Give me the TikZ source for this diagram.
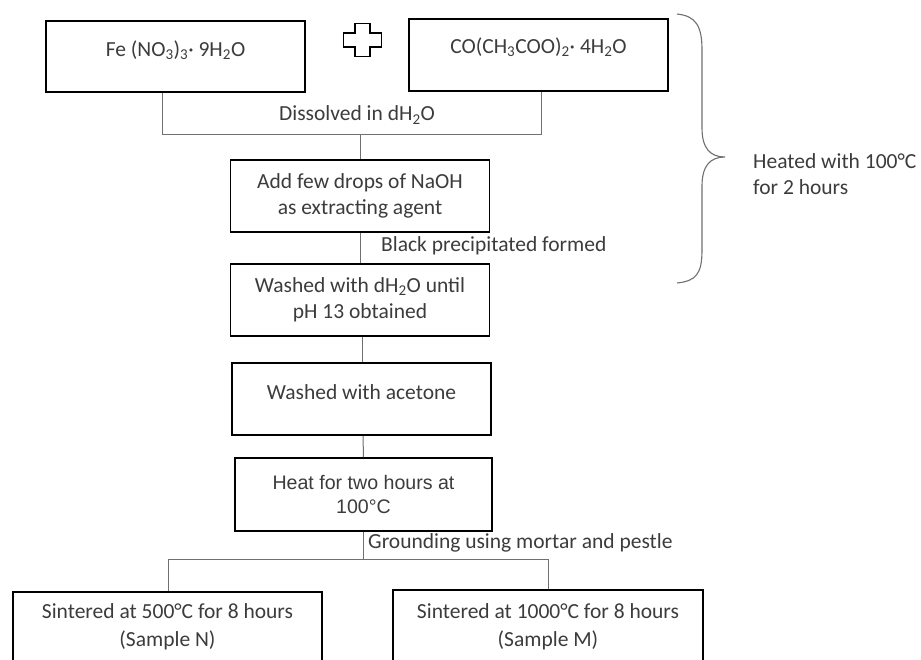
\documentclass[tikz,border=0pt]{standalone}
\usepackage{fontspec}
\setmainfont{Carlito}
\newfontfamily\arialfont{Liberation Sans}
\definecolor{txt}{HTML}{3C3C3C}
\definecolor{conn}{HTML}{707070}
\begin{document}
\begin{tikzpicture}[x=1pt,y=-1pt,
  box/.style={draw=black, line width=1.6pt, inner sep=0pt, minimum width=259pt, minimum height=72pt, align=center, text=txt, font=\fontsize{21.5}{26}\selectfont},
  lbl/.style={text=txt, inner sep=0pt, font=\fontsize{21.5}{26}\selectfont},
  conline/.style={draw=conn, line width=1pt}]
\clip (0,0) rectangle (921,659);
\fill[white] (0,0) rectangle (921,659);
% top boxes
\node[box, minimum height=71pt] (fe) at (175.5,56.5) {};
\node[lbl] (fet) at (175.5,50) {Fe (NO\textsubscript{3})\textsubscript{3}· 9H\textsubscript{2}O};
\node[box] (co) at (538.5,55) {};
\node[lbl] (cot) at (538.5,47) {CO(CH\textsubscript{3}COO)\textsubscript{2}· 4H\textsubscript{2}O};
% plus sign
\draw[black, line width=1.4pt] (355,23.5) -- (370,23.5) -- (370,33) -- (381.5,33) -- (381.5,47) -- (370,47) -- (370,56.5) -- (355,56.5) -- (355,47) -- (343.5,47) -- (343.5,33) -- (355,33) -- cycle;
% process boxes
\node[box] (add) at (360,196) {Add few drops of NaOH\\as extracting agent};
\node[box] (wash) at (360,300) {Washed with dH\textsubscript{2}O until\\pH 13 obtained};
\node[box] (acet) at (361.5,399) {};
\node[lbl] (acett) at (361.5,392) {Washed with acetone};
\node[box, minimum width=257pt, minimum height=73pt, font=\arialfont\fontsize{19.6}{24}\selectfont] (heat) at (363.5,494.5) {Heat for two hours at\\100°C};
% bottom boxes
\node[box, minimum width=309pt, minimum height=140pt] (sn) at (167.5,662) {};
\node[lbl, align=center, font=\fontsize{21.5}{28}\selectfont] (snt) at (167.5,627) {Sintered at 500°C for 8 hours\\(Sample N)};
\node[box, minimum width=310pt, minimum height=140pt] (sm) at (548,660) {};
\node[lbl, align=center, font=\fontsize{21.5}{28}\selectfont] (smt) at (548,627) {Sintered at 1000°C for 8 hours\\(Sample M)};
% connectors
\coordinate (j1) at (162,134);
\coordinate (j2) at (541,134);
\draw[conline] (fe.south -| j1) -- (j1) -- (j2) -- (co.south -| j2);
\draw[conline] (add.north) -- (add.north |- j1);
\node[lbl] (diss) at (357,115) {Dissolved in dH\textsubscript{2}O};
\draw[conline] (add.south) -- (wash.north);
\node[lbl, anchor=west] (black) at (381,246) {Black precipitated formed};
\draw[conline] ([xshift=2pt]wash.south) -- ([xshift=0.5pt]acet.north);
\draw[conline] ([xshift=1.5pt]acet.north |- acet.south) -- (heat.north);
\coordinate (j3) at (363.5,559);
\coordinate (jl) at (168,559);
\coordinate (jr) at (548,559);
\draw[conline] (heat.south) -- (j3);
\draw[conline] (sn.north -| jl) -- (jl) -- (jr) -- (sm.north -| jr);
\node[lbl, anchor=west] (grnd) at (368,543) {Grounding using mortar and pestle};
% brace
\coordinate (bt) at (677,14);
\coordinate (bb) at (677,283);
\coordinate (btip) at (725,157);
\draw[conn, line width=1.1pt] (bt) .. controls (696,16) and (702,26) .. (702,50) -- (702,128) .. controls (702,148) and (710,157) .. (btip) .. controls (710,157) and (702,166) .. (702,186) -- (702,250) .. controls (702,274) and (696,281) .. (bb);
\node[lbl, anchor=west, align=left] (heated) at (753,174) {Heated with 100°C\\for 2 hours};
\end{tikzpicture}
\end{document}
